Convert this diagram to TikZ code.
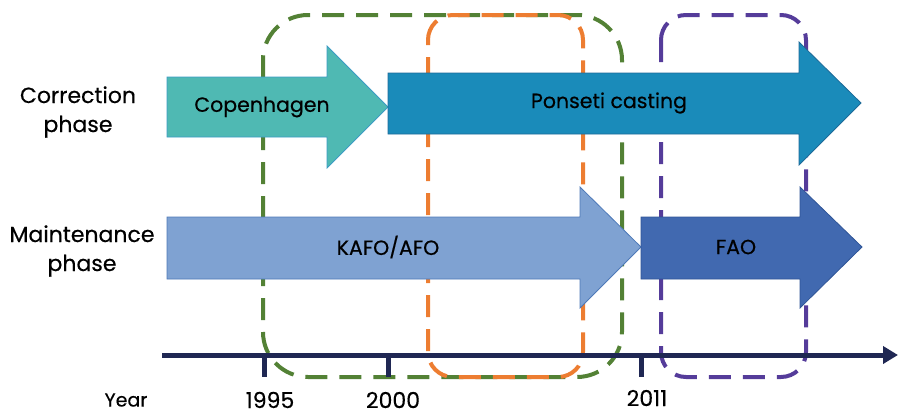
\documentclass[tikz,border=0pt]{standalone}
\usepackage{fontspec}
\setmainfont{Poppins}[FakeBold=0.4]
\usetikzlibrary{arrows.meta}
\definecolor{cTeal}{HTML}{4FB9B3}
\definecolor{cTealD}{HTML}{3C9BC4}
\definecolor{cPon}{HTML}{1A8BBA}
\definecolor{cPonD}{HTML}{1E6A98}
\definecolor{cKafo}{HTML}{7FA2D2}
\definecolor{cKafoD}{HTML}{4E79B8}
\definecolor{cFao}{HTML}{4169B0}
\definecolor{cFaoD}{HTML}{2F5597}
\definecolor{cGreen}{HTML}{538135}
\definecolor{cOrange}{HTML}{ED7D31}
\definecolor{cPurple}{HTML}{553C9A}
\definecolor{cAxis}{HTML}{1F2753}
\tikzset{
  dbox/.style={line width=4pt, dash pattern=on 22pt off 12pt},
  arr/.style={line width=0.8pt, line join=miter},
  lbl/.style={font=\fontsize{20.5}{24}\selectfont, inner sep=0pt},
  side/.style={font=\fontsize{22}{29}\selectfont, align=center, inner sep=0pt},
  yr/.style={font=\fontsize{22}{26}\selectfont, inner sep=0pt},
  axisline/.style={cAxis, line width=5pt},
}
\begin{document}
\begin{tikzpicture}[x=1pt,y=-1pt]
\useasboundingbox (0,0) rectangle (898,415);
% dashed boxes (behind)
\draw[dbox, cGreen, rounded corners=45pt] (263,15) rectangle (622,377);
\draw[dbox, cOrange, rounded corners=25pt, dash phase=17pt] (428,15) rectangle (583,377);
\draw[dbox, cPurple, rounded corners=25pt] (661,15) rectangle (806,377);
% arrows
\draw[arr, fill=cTeal, draw=cTealD] (167,77) -- (327,77) -- (327,46) -- (388,107) -- (327,168) -- (327,137) -- (167,137) -- cycle;
\node[lbl] (cop) at (262,107) {Copenhagen};
\draw[arr, fill=cPon, draw=cPonD] (388,73) -- (799,73) -- (799,42) -- (861,103) -- (799,165) -- (799,134) -- (388,134) -- cycle;
\node[lbl] (pon) at (609,103) {Ponseti casting};
\draw[arr, fill=cKafo, draw=cKafoD] (167,217) -- (580,217) -- (580,187) -- (641,247) -- (580,308) -- (580,279) -- (167,279) -- cycle;
\node[lbl] (kafo) at (388,247) {KAFO/AFO};
\draw[arr, fill=cFao, draw=cFaoD] (641,217) -- (800,217) -- (800,187) -- (862,247) -- (800,308) -- (800,279) -- (641,279) -- cycle;
\node[lbl] (fao) at (736,247) {FAO};
% side labels
\node[side] (corr) at (78,112) {Correction\\phase};
\node[side] (maint) at (82,251) {Maintenance\\phase};
% axis
\coordinate (axL) at (162,355);
\coordinate (axR) at (898,355);
\draw[axisline, -{Triangle[length=15pt,width=17pt]}] (axL) -- (axR);
\coordinate (t1) at (264,355);
\coordinate (t2) at (388,355);
\coordinate (t3) at (641,355);
\draw[axisline] (t1) -- ++(0,22);
\draw[axisline] (t2) -- ++(0,22);
\draw[axisline] (t3) -- ++(0,22);
\node[font=\fontsize{19}{22}\selectfont, inner sep=0pt] (year) at (126,400) {Year};
\node[yr] (y1) at (270,400) {1995};
\node[yr] (y2) at (393,400) {2000};
\node[yr] (y3) at (647,398) {2011};
\end{tikzpicture}
\end{document}
